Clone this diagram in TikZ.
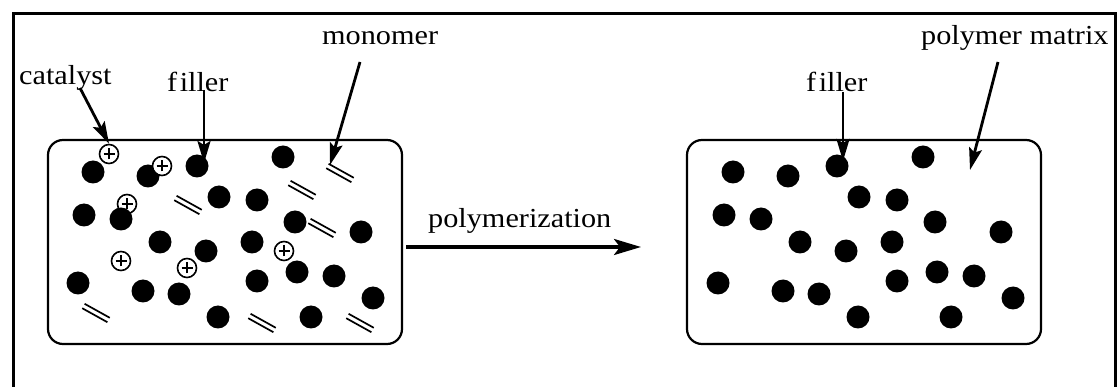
\documentclass[tikz,border=0pt]{standalone}
\usepackage{fontspec}
\setmainfont{Liberation Serif}[FakeStretch=1.1]
\usetikzlibrary{arrows.meta}
\begin{document}
\begin{tikzpicture}[x=1pt,y=-1pt,
  lbl/.style={font=\fontsize{27.5}{32}\selectfont, inner sep=0pt, anchor=base west},
  frame/.style={line width=3pt},
  box/.style={draw, line width=2.2pt, rounded corners=15pt, minimum width=354pt, minimum height=204pt, inner sep=0pt},
  dot/.style={circle, fill=black, minimum size=23pt, inner sep=0pt},
  cat/.style={circle, draw, fill=white, line width=1.6pt, minimum size=19pt, inner sep=0pt,
    path picture={
      \draw[line width=2pt] ([xshift=-5.5pt]path picture bounding box.center) -- ([xshift=5.5pt]path picture bounding box.center);
      \draw[line width=2pt] ([yshift=-5.5pt]path picture bounding box.center) -- ([yshift=5.5pt]path picture bounding box.center);}},
  mono/.pic={\draw[line width=1.7pt] (-11.4,-9.2) -- (13.8,4.8); \draw[line width=1.7pt] (-13.8,-4.8) -- (11.4,9.2);},
  lead/.style={line width=2.8pt, -{Stealth[length=22pt,width=13pt,inset=4pt]}},
  main/.style={line width=3.4pt, -{Stealth[length=27pt,width=16pt,inset=6pt]}}
]
\useasboundingbox (0,0) rectangle (1117,387);
\fill[white] (0,0) rectangle (1117,387);
% outer frame
\draw[frame] (13,388) -- (13,13.5) -- (1115,13.5) -- (1115,388);
% boxes
\node[box] (L) at (225,242) {};
\node[box] (R) at (864,242) {};
% catalysts (under dots)
\node[cat] (c1) at (109,154) {};
\node[cat] (c3) at (127,204) {};
\node[cat] (c4) at (121,261) {};
\node[cat] (c5) at (187,268) {};
\node[cat] (c6) at (284,251) {};
% filler dots
\foreach \px/\py [count=\i] in {93/172,148/176,197/166,283/157,219/197,257/200,84/215,121/219,295/222,160/242,206/251,252/242,361/232,78/283,143/291,179/294,257/281,297/272,334/276,373/298,218/317,311/317}{
  \node[dot] (dl\i) at (\px,\py) {};
  \node[dot] (dr\i) at (\px+640,\py) {};
}
\node[cat] (c2) at (162,166) {};
% monomers
\foreach \px/\py in {340/173,302/190,188/205,322/228,96/313,262/323,360/323}{
  \pic at (\px,\py) {mono};
}
% labels
\node[lbl] (tcat) at (19,85) {catalyst};
\node[lbl] (tfil) at (167,92) {f\kern2.5pt iller};
\node[lbl] (tmon) at (322,45) {monomer};
\node[lbl] (tpol) at (428,228) {polymerization};
\node[lbl] (tfil2) at (806,92) {f\kern2.5pt iller};
\node[lbl] (tmat) at (921,45) {polymer matrix};
% leader arrows
\coordinate (catS) at (80,88);
\coordinate (filS) at (204,90);
\coordinate (filE) at (204,163);
\coordinate (monS) at (360,62);
\coordinate (monE) at (330,165);
\coordinate (fil2S) at (843,92);
\coordinate (fil2E) at (843,161);
\coordinate (matS) at (998,62);
\coordinate (matE) at (970,170);
\draw[lead] (catS) -- (c1.north);
\draw[lead] (filS) -- (filE);
\draw[lead] (monS) -- (monE);
\draw[lead] (fil2S) -- (fil2E);
\draw[lead] (matS) -- (matE);
% main arrow
\coordinate (arrS) at (406,247);
\coordinate (arrE) at (641,247);
\draw[main] (arrS) -- (arrE);
\end{tikzpicture}
\end{document}
